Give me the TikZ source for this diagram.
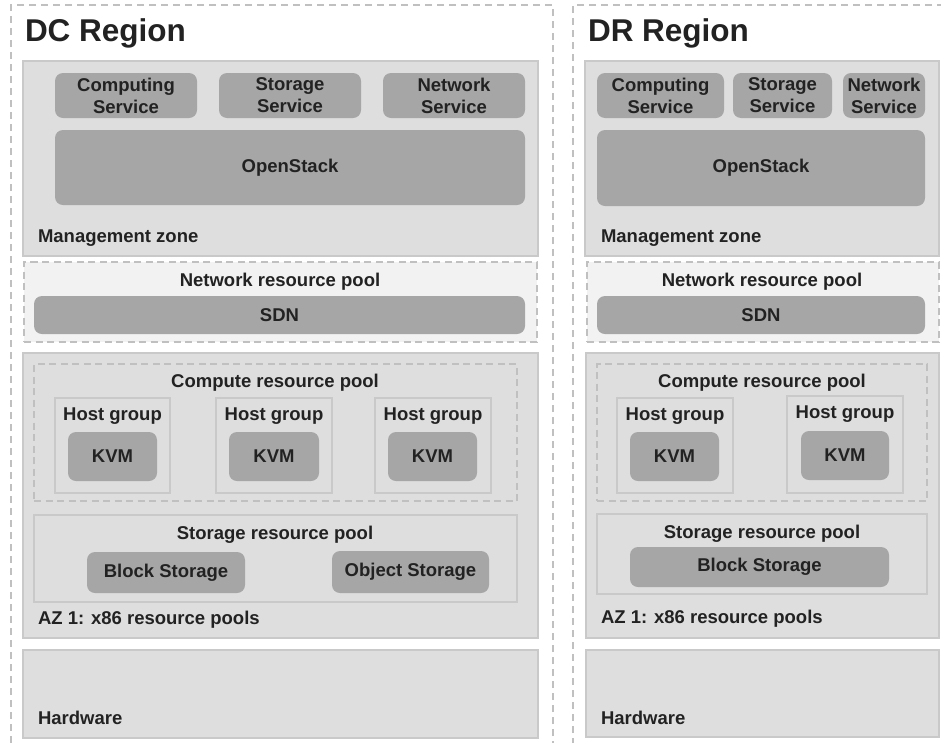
\documentclass[tikz,border=0pt]{standalone}
\usepackage{fontspec}
\setmainfont{Liberation Sans}
\definecolor{regionline}{HTML}{C0C0C0}
\definecolor{zonefill}{HTML}{DEDEDE}
\definecolor{zoneline}{HTML}{C9C9C9}
\definecolor{poolfill}{HTML}{F2F2F2}
\definecolor{svcfill}{HTML}{A6A6A6}
\definecolor{txt}{HTML}{222222}
\newcommand\bx[7]{\node[#1, anchor=north west, minimum width={#5pt-#3pt}, minimum height={#6pt-#4pt}] (#2) at (#3,#4) {#7};}
\tikzset{
  base/.style={inner sep=0pt, outer sep=0pt, text=txt, font=\bfseries\fontsize{18.5}{22}\selectfont, align=center},
  region/.style={base, draw=regionline, dash pattern=on 7pt off 5pt, line width=1.8pt},
  zone/.style={base, draw=zoneline, fill=zonefill, line width=1.5pt},
  pool/.style={base, draw=regionline, fill=poolfill, dash pattern=on 7pt off 4.5pt, line width=1.5pt},
  cpool/.style={base, draw=regionline, dash pattern=on 7pt off 4.5pt, line width=1.5pt},
  grp/.style={base, draw=zoneline, line width=1.5pt},
  svc/.style={base, fill=svcfill, rounded corners=8pt},
  lbl/.style={base},
  title/.style={base, font=\bfseries\fontsize{31.5}{36}\selectfont}
}
\begin{document}
\begin{tikzpicture}[x=1pt, y=-1pt]
\useasboundingbox (0,0) rectangle (941,742);
\clip (0,0) rectangle (941,742);
\fill[white] (0,0) rectangle (941,742);
% ---------------- DC Region ----------------
\bx{region}{dcreg}{11}{5}{553}{770}{}
\node[title, anchor=west] (dctitle) at (25,33) {DC Region};
\bx{zone}{dcmz}{23}{61}{538}{256}{}
\bx{svc}{dccs}{55}{73}{197}{118}{Computing\\Service}
\bx{svc}{dcss}{219}{73}{361}{118}{Storage\\Service}
\bx{svc}{dcns}{383}{73}{525}{118}{Network\\Service}
\bx{svc}{dcos}{55}{130}{525}{205}{OpenStack}
\node[lbl, anchor=west] (dcmzl) at (38,238) {Management zone};
\bx{pool}{dcnrp}{24}{262}{537}{342}{}
\node[lbl] (dcnrpl) at (280,282) {Network resource pool};
\bx{svc}{dcsdn}{34}{296}{525}{334}{SDN}
\bx{zone}{dcaz}{23}{353}{538}{638}{}
\bx{cpool}{dccrp}{34}{364}{517}{501}{}
\node[lbl] (dccrpl) at (275,383) {Compute resource pool};
\bx{grp}{dchg1}{55}{398}{170}{493}{}
\node[lbl] (dchg1l) at (112.5,416) {Host group};
\bx{svc}{dckvm1}{68}{432}{157}{481}{KVM}
\bx{grp}{dchg2}{216}{398}{332}{493}{}
\node[lbl] (dchg2l) at (274,416) {Host group};
\bx{svc}{dckvm2}{229}{432}{319}{481}{KVM}
\bx{grp}{dchg3}{375}{398}{491}{493}{}
\node[lbl] (dchg3l) at (433,416) {Host group};
\bx{svc}{dckvm3}{388}{432}{477}{481}{KVM}
\bx{grp}{dcsrp}{34}{515}{517}{602}{}
\node[lbl] (dcsrpl) at (275,535) {Storage resource pool};
\bx{svc}{dcbs}{87}{552}{245}{593}{Block Storage}
\bx{svc}{dcobs}{332}{551}{489}{593}{Object Storage}
\node[lbl, anchor=west] (dcazl) at (38,620) {AZ 1: x86 resource pools};
\bx{zone}{dchw}{23}{650}{538}{738}{}
\node[lbl, anchor=west] (dchwl) at (38,718) {Hardware};
% ---------------- DR Region ----------------
\bx{region}{drreg}{573}{5}{970}{770}{}
\node[title, anchor=west] (drtitle) at (588,33) {DR Region};
\bx{zone}{drmz}{585}{61}{939}{256}{}
\bx{svc}{drcs}{597}{73}{724}{118}{Computing\\Service}
\bx{svc}{drss}{733}{73}{832}{118}{Storage\\Service}
\bx{svc}{drns}{843}{73}{925}{118}{Network\\Service}
\bx{svc}{dros}{597}{130}{925}{206}{OpenStack}
\node[lbl, anchor=west] (drmzl) at (601,238) {Management zone};
\bx{pool}{drnrp}{587}{262}{939}{342}{}
\node[lbl] (drnrpl) at (762,282) {Network resource pool};
\bx{svc}{drsdn}{597}{296}{925}{334}{SDN}
\bx{zone}{draz}{586}{353}{939}{638}{}
\bx{cpool}{drcrp}{597}{364}{927}{501}{}
\node[lbl] (drcrpl) at (762,383) {Compute resource pool};
\bx{grp}{drhg1}{617}{398}{733}{493}{}
\node[lbl] (drhg1l) at (675,416) {Host group};
\bx{svc}{drkvm1}{630}{432}{719}{481}{KVM}
\bx{grp}{drhg2}{787}{396}{903}{493}{}
\node[lbl] (drhg2l) at (845,414) {Host group};
\bx{svc}{drkvm2}{801}{431}{889}{480}{KVM}
\bx{grp}{drsrp}{597}{514}{927}{594}{}
\node[lbl] (drsrpl) at (762,534) {Storage resource pool};
\bx{svc}{drbs}{630}{547}{889}{587}{Block Storage}
\node[lbl, anchor=west] (drazl) at (601,619) {AZ 1: x86 resource pools};
\bx{zone}{drhw}{586}{650}{939}{737}{}
\node[lbl, anchor=west] (drhwl) at (601,718) {Hardware};
\end{tikzpicture}
\end{document}
